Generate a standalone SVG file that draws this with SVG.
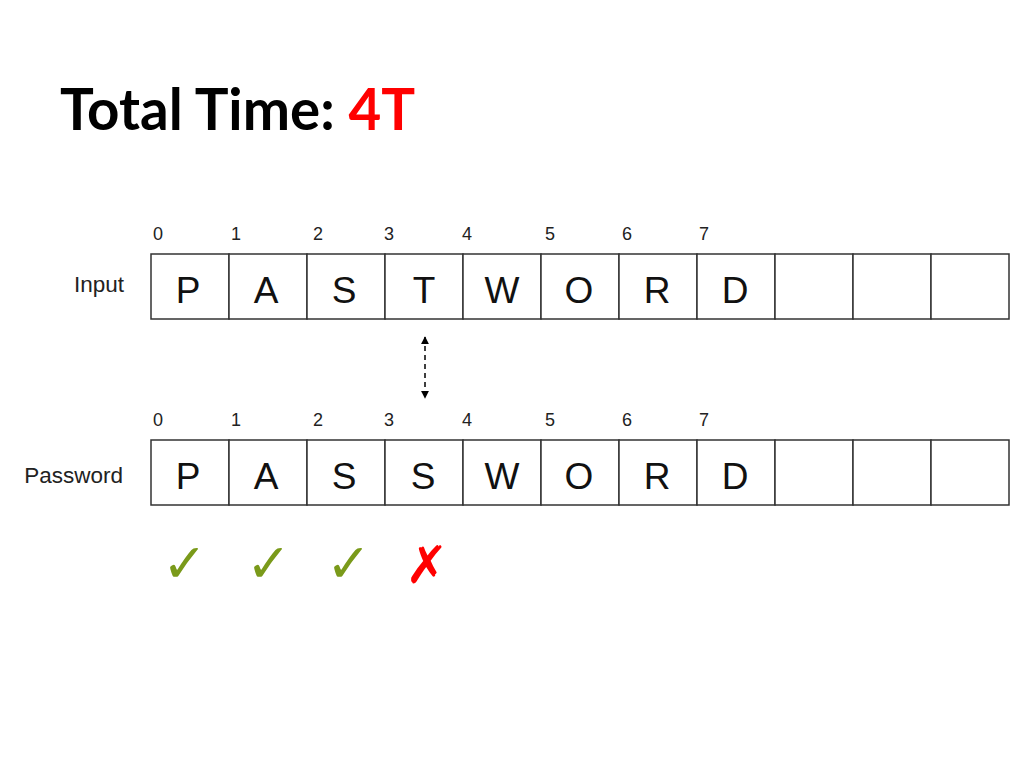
<svg xmlns="http://www.w3.org/2000/svg" width="1024" height="768" viewBox="0 0 1024 768">
<style>
.cell{fill:#fff;stroke:#333;stroke-width:1.5}
.idx{font-family:"Liberation Sans",Arial,sans-serif;font-size:18px;fill:#222}
.ch{font-family:"Liberation Sans",Arial,sans-serif;font-size:37px;fill:#111;text-anchor:middle}
.lbl{font-family:"Liberation Sans",Arial,sans-serif;font-size:22.5px;fill:#222;text-anchor:end}
.chk{font-family:"DejaVu Sans",sans-serif;font-size:54px;fill:#7a9a1a}
.x{font-family:"DejaVu Sans",sans-serif;font-size:52px;fill:#f00}
</style>
<defs>
<marker id="ah" viewBox="0 0 10 10" refX="9" refY="5" markerWidth="5.5" markerHeight="5.5" orient="auto-start-reverse">
<path d="M0,0 L10,5 L0,10 z" fill="#000"/>
</marker>
</defs>
<rect width="1024" height="768" fill="#fff"/>
<text x="60" y="130" font-family="Lato,sans-serif" font-weight="bold" font-size="56.5" fill="#000">Total Time: <tspan fill="#f00">4T</tspan></text>

<g id="input-row">
<text class="lbl" x="124" y="292">Input</text>
<g class="idx"><text x="153" y="240">0</text><text x="231" y="240">1</text><text x="313" y="240">2</text><text x="384" y="240">3</text><text x="462" y="240">4</text><text x="545" y="240">5</text><text x="622" y="240">6</text><text x="699" y="240">7</text></g>
<rect class="cell" x="151" y="254" width="78" height="65"/>
<rect class="cell" x="229" y="254" width="78" height="65"/>
<rect class="cell" x="307" y="254" width="78" height="65"/>
<rect class="cell" x="385" y="254" width="78" height="65"/>
<rect class="cell" x="463" y="254" width="78" height="65"/>
<rect class="cell" x="541" y="254" width="78" height="65"/>
<rect class="cell" x="619" y="254" width="78" height="65"/>
<rect class="cell" x="697" y="254" width="78" height="65"/>
<rect class="cell" x="775" y="254" width="78" height="65"/>
<rect class="cell" x="853" y="254" width="78" height="65"/>
<rect class="cell" x="931" y="254" width="78" height="65"/>
<text class="ch" x="188" y="303">P</text>
<text class="ch" x="266" y="303">A</text>
<text class="ch" x="344" y="303">S</text>
<text class="ch" x="424" y="303">T</text>
<text class="ch" x="502" y="303">W</text>
<text class="ch" x="579" y="303">O</text>
<text class="ch" x="657" y="303">R</text>
<text class="ch" x="735" y="303">D</text>
</g>

<g id="password-row">
<text class="lbl" x="123" y="483">Password</text>
<g class="idx"><text x="153" y="426">0</text><text x="231" y="426">1</text><text x="313" y="426">2</text><text x="384" y="426">3</text><text x="462" y="426">4</text><text x="545" y="426">5</text><text x="622" y="426">6</text><text x="699" y="426">7</text></g>
<rect class="cell" x="151" y="440" width="78" height="65"/>
<rect class="cell" x="229" y="440" width="78" height="65"/>
<rect class="cell" x="307" y="440" width="78" height="65"/>
<rect class="cell" x="385" y="440" width="78" height="65"/>
<rect class="cell" x="463" y="440" width="78" height="65"/>
<rect class="cell" x="541" y="440" width="78" height="65"/>
<rect class="cell" x="619" y="440" width="78" height="65"/>
<rect class="cell" x="697" y="440" width="78" height="65"/>
<rect class="cell" x="775" y="440" width="78" height="65"/>
<rect class="cell" x="853" y="440" width="78" height="65"/>
<rect class="cell" x="931" y="440" width="78" height="65"/>
<text class="ch" x="188" y="489">P</text>
<text class="ch" x="266" y="489">A</text>
<text class="ch" x="344" y="489">S</text>
<text class="ch" x="423" y="489">S</text>
<text class="ch" x="502" y="489">W</text>
<text class="ch" x="579" y="489">O</text>
<text class="ch" x="657" y="489">R</text>
<text class="ch" x="735" y="489">D</text>
</g>

<g id="connectors">
<line x1="425" y1="337" x2="425" y2="398" stroke="#000" stroke-width="1.5" stroke-dasharray="5,4" marker-start="url(#ah)" marker-end="url(#ah)"/>
</g>

<g id="marks">
<text class="chk" x="162" y="582">✓</text>
<text class="chk" x="246" y="582">✓</text>
<text class="chk" x="326" y="582">✓</text>
<text class="x" x="405" y="583">✗</text>
</g>
</svg>
